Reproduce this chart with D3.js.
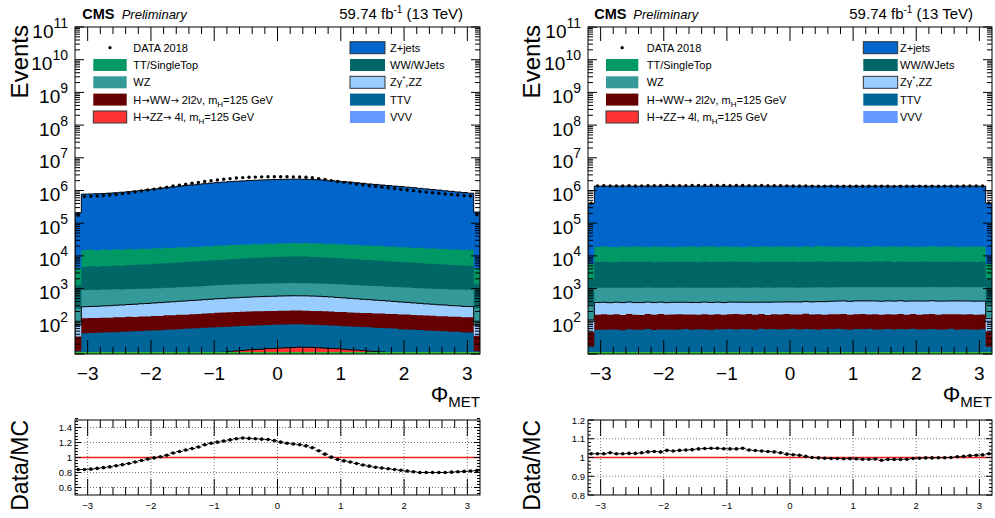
<!DOCTYPE html>
<html><head><meta charset="utf-8">
<script src="https://d3js.org/d3.v7.min.js"></script>
<style>
html,body{margin:0;padding:0;background:#fff;}
svg{display:block;}
text{font-family:"Liberation Sans",Arial,Helvetica,sans-serif;fill:#000;}
</style></head><body>
<svg id="chart" width="995" height="518"></svg>
<script>
// ---------------- binning / axis labels ----------------
const xMin = -3.2, xMax = 3.2, nBins = 64;
const xTickValues = [-3, -2, -1, 0, 1, 2, 3];
const xTickLabels = ["−3", "−2", "−1", "0", "1", "2", "3"];
const yDecadeExponents = [1, 2, 3, 4, 5, 6, 7, 8, 9, 10, 11];
const ratioTicksLeft = [0.6, 0.8, 1, 1.2, 1.4];
const ratioLabelsLeft = ["0.6", "0.8", "1", "1.2", "1.4"];
const ratioTicksRight = [0.8, 0.9, 1, 1.1, 1.2];
const ratioLabelsRight = ["0.8", "0.9", "1", "1.1", "1.2"];

// stack order: bottom -> top
const stackOrder = ["VVV", "HZZ", "TTV", "HWW", "ZG", "WZ", "WW", "TT", "ZJ"];
const colors = { ZJ: "#0066CC", WW: "#006666", ZG: "#99CCFF", TTV: "#006699", VVV: "#6699FF",
                 TT: "#009966", WZ: "#339999", HWW: "#660000", HZZ: "#FF3333" };
const outlined = { ZJ: true, ZG: true, HZZ: true };

// ---------------- LEFT panel series (events per bin) ----------------
const L_ZJ = [
 205000, 760000, 768000, 781000, 793000, 818000, 838000, 872000,
 901000, 947000, 988000, 1042000, 1091000, 1153000, 1207000, 1274000,
 1331000, 1403000, 1461000, 1534000, 1592000, 1664000, 1721000, 1788000,
 1842000, 1903000, 1946000, 1998000, 2031000, 2078000, 2102000, 2137000,
 2158000, 2183000, 2187000, 2194000, 2172000, 2148000, 2097000, 2049000,
 1976000, 1913000, 1836000, 1773000, 1697000, 1638000, 1566000, 1513000,
 1452000, 1404000, 1347000, 1302000, 1248000, 1203000, 1147000, 1102000,
 1053000, 1012000, 963000, 927000, 884000, 852000, 814000, 215000];
const L_TT = [
 2900, 10300, 10800, 10000, 10700, 10200, 10900, 10400,
 11000, 10500, 11200, 10800, 11500, 11100, 11600, 11400,
 12200, 11600, 12500, 12000, 12800, 12200, 13200, 12800,
 13600, 13300, 14000, 13700, 14400, 14000, 14600, 14200,
 15000, 14600, 15100, 14800, 15200, 14600, 15000, 14300,
 14800, 14000, 14300, 13600, 13900, 13300, 13400, 12800,
 13000, 12300, 12500, 11800, 11900, 11300, 11600, 10900,
 11200, 10600, 10900, 10300, 10600, 10100, 10400, 2800];
const L_WW = [
 1050, 3700, 3900, 3750, 3980, 3900, 4150, 4030,
 4260, 4280, 4450, 4500, 4700, 4780, 4950, 5070,
 5230, 5340, 5540, 5660, 5880, 6020, 6240, 6380,
 6610, 6740, 6980, 7100, 7330, 7430, 7650, 7760,
 7930, 7990, 8090, 8060, 8040, 7890, 7790, 7580,
 7450, 7190, 6980, 6740, 6580, 6360, 6230, 6020,
 5900, 5700, 5580, 5380, 5270, 5080, 4980, 4790,
 4720, 4560, 4480, 4330, 4270, 4140, 4090, 1100];
const L_WZ = [
 170, 625, 634, 624, 636, 627, 639, 630,
 641, 634, 644, 640, 654, 655, 669, 672,
 689, 694, 714, 719, 744, 752, 774, 782,
 802, 807, 826, 830, 847, 847, 859, 855,
 866, 862, 870, 861, 864, 852, 852, 837,
 834, 812, 804, 787, 784, 767, 764, 747,
 744, 727, 724, 702, 699, 682, 679, 665,
 664, 649, 650, 637, 640, 630, 634, 175];
const L_ZG = [
 42, 155, 158, 162, 166, 171, 177, 183,
 190, 197, 204, 211, 218, 226, 234, 243,
 251, 260, 268, 277, 285, 297, 306, 315,
 324, 333, 342, 350, 358, 365, 372, 378,
 383, 387, 390, 390, 388, 383, 375, 366,
 355, 342, 330, 318, 305, 293, 281, 270,
 259, 248, 238, 228, 218, 209, 200, 192,
 184, 177, 170, 164, 158, 153, 149, 40];
const L_HWW = [
 22, 80, 82, 81, 84, 83, 86, 85,
 88, 87, 90, 89, 93, 93, 97, 97,
 101, 101, 105, 106, 111, 112, 117, 117,
 121, 121, 125, 125, 128, 127, 130, 129,
 132, 131, 133, 131, 132, 129, 130, 126,
 126, 121, 120, 116, 116, 113, 113, 110,
 110, 107, 107, 104, 104, 100, 100, 97,
 97, 93, 94, 90, 91, 87, 88, 24];
const L_TTV = [
 11, 39, 39, 40, 40, 41, 41, 42,
 43, 43, 44, 45, 45, 46, 47, 48,
 49, 50, 51, 52, 53, 54, 55, 56,
 57, 58, 59, 60, 61, 62, 63, 64,
 64, 65, 65, 65, 64, 63, 62, 61,
 60, 58, 57, 56, 55, 54, 53, 52,
 51, 50, 49, 47, 46, 46, 45, 44,
 44, 43, 43, 42, 42, 41, 41, 11];
const L_HZZ = [
 0.5, 2.0, 2.2, 2.4, 2.6, 2.8, 3.0, 3.2,
 3.4, 3.7, 4.0, 4.3, 4.6, 4.9, 5.2, 5.5,
 5.8, 6.2, 6.6, 7.0, 7.5, 7.9, 8.3, 8.8,
 9.3, 9.8, 10.3, 10.8, 11.2, 11.6, 12.0, 12.3,
 12.6, 13.0, 13.4, 13.6, 13.5, 13.3, 13.0, 12.7,
 12.3, 11.9, 11.5, 11.0, 10.6, 10.2, 9.8, 9.4,
 9.0, 8.6, 8.2, 7.8, 7.5, 7.0, 6.4, 5.8,
 5.2, 4.6, 4.0, 3.4, 2.9, 2.4, 2.0, 0.5];
const L_VVV = [
 0.7, 2.4, 2.5, 2.4, 2.6, 2.5, 2.4, 2.5,
 2.6, 2.5, 2.4, 2.6, 2.5, 2.5, 2.6, 2.4,
 2.5, 2.6, 2.5, 2.4, 2.6, 2.5, 2.6, 2.5,
 2.4, 2.6, 2.5, 2.6, 2.5, 2.4, 2.6, 2.5,
 2.6, 2.5, 2.4, 2.6, 2.5, 2.6, 2.5, 2.4,
 2.5, 2.6, 2.5, 2.4, 2.6, 2.5, 2.4, 2.6,
 2.5, 2.4, 2.6, 2.5, 2.6, 2.5, 2.4, 2.6,
 2.5, 2.6, 2.4, 2.5, 2.6, 2.4, 2.5, 0.7];
const L_RATIO = [
 0.84, 0.84, 0.845, 0.855, 0.865, 0.875, 0.89, 0.905,
 0.92, 0.94, 0.96, 0.98, 0.995, 1.01, 1.03, 1.06,
 1.08, 1.10, 1.12, 1.14, 1.17, 1.19, 1.205, 1.22,
 1.235, 1.25, 1.26, 1.255, 1.25, 1.245, 1.24, 1.225,
 1.205, 1.19, 1.18, 1.17, 1.155, 1.13, 1.09, 1.045,
 1.005, 0.975, 0.955, 0.94, 0.92, 0.90, 0.885, 0.87,
 0.86, 0.85, 0.84, 0.83, 0.82, 0.81, 0.80, 0.80,
 0.80, 0.80, 0.80, 0.805, 0.81, 0.815, 0.82, 0.825];

// ---------------- RIGHT panel series ----------------
const R_ZJ = [
 395000, 1338000, 1345000, 1332000, 1340000, 1336000, 1342000, 1329000,
 1337000, 1344000, 1331000, 1339000, 1346000, 1335000, 1341000, 1333000,
 1347000, 1338000, 1343000, 1336000, 1340000, 1345000, 1332000, 1339000,
 1344000, 1337000, 1341000, 1348000, 1335000, 1342000, 1338000, 1346000,
 1340000, 1333000, 1345000, 1339000, 1336000, 1343000, 1350000, 1337000,
 1341000, 1334000, 1346000, 1339000, 1343000, 1336000, 1347000, 1340000,
 1335000, 1344000, 1338000, 1342000, 1349000, 1337000, 1341000, 1334000,
 1345000, 1339000, 1336000, 1343000, 1340000, 1347000, 1338000, 402000];
const R_TT = [
 3600, 12100, 12700, 12300, 11900, 12600, 12200, 12800,
 12400, 12000, 12900, 12300, 12500, 11800, 12600, 12300,
 12900, 12200, 12500, 12700, 12100, 12800, 12400, 12600,
 12000, 12700, 12300, 12900, 12500, 12200, 12800, 12400,
 12600, 12100, 12900, 12300, 13300, 12500, 12700, 12200,
 12800, 12400, 12000, 12600, 12300, 12900, 12500, 12100,
 12700, 12300, 12800, 12200, 12600, 12400, 13200, 12500,
 12300, 12800, 12100, 12600, 12400, 12900, 12500, 3700];
const R_WW = [
 1600, 5450, 5600, 5350, 5500, 5650, 5400, 5550,
 5480, 5620, 5380, 5700, 5450, 5560, 5420, 5600,
 5520, 5380, 5650, 5470, 5590, 5410, 5700, 5500,
 5440, 5610, 5360, 5580, 5490, 5640, 5420, 5550,
 5600, 5470, 5680, 5400, 5820, 5530, 5460, 5650,
 5380, 5570, 5500, 5630, 5420, 5590, 5480, 5700,
 5450, 5600, 5380, 5560, 5500, 5640, 5430, 5580,
 5520, 5390, 5670, 5480, 5600, 5440, 5560, 1650];
const R_WZ = [
 200, 690, 680, 695, 676, 688, 683, 692,
 679, 686, 694, 681, 689, 677, 693, 685,
 682, 690, 678, 695, 684, 688, 680, 691,
 686, 679, 693, 684, 690, 677, 688, 683,
 691, 682, 687, 680, 694, 685, 678, 690,
 684, 692, 679, 688, 683, 690, 681, 687,
 689, 680, 693, 684, 678, 691, 686, 682,
 688, 683, 690, 679, 692, 685, 687, 205];
const R_ZG = [
 62, 216, 219, 214, 221, 217, 220, 215,
 218, 222, 216, 219, 214, 220, 217, 221,
 215, 219, 222, 217, 220, 216, 223, 218,
 221, 217, 224, 219, 226, 222, 228, 225,
 230, 227, 233, 231, 236, 240, 246, 251,
 254, 252, 256, 253, 257, 255, 251, 256,
 253, 257, 254, 252, 256, 253, 258, 255,
 252, 256, 254, 257, 253, 255, 252, 72];
const R_HWW = [
 31, 104, 109, 101, 107, 103, 110, 105,
 100, 108, 104, 111, 102, 106, 109, 103,
 107, 101, 110, 105, 108, 102, 106, 111,
 104, 109, 103, 107, 100, 108, 105, 110,
 103, 106, 112, 104, 108, 101, 107, 105,
 109, 102, 106, 111, 104, 108, 103, 107,
 105, 110, 102, 108, 104, 106, 109, 103,
 107, 104, 110, 105, 108, 103, 106, 32];
const R_TTV = [
 14, 46, 45, 47, 46, 44, 47, 45,
 46, 48, 45, 46, 47, 45, 46, 48,
 45, 47, 46, 44, 47, 46, 48, 45,
 47, 46, 45, 48, 46, 47, 45, 46,
 48, 45, 47, 46, 44, 47, 46, 48,
 46, 45, 47, 46, 48, 45, 46, 47,
 45, 47, 46, 48, 45, 46, 47, 45,
 46, 48, 45, 47, 46, 45, 47, 14];
const R_HZZ = [
 2.0, 7.1, 7.3, 7.0, 7.4, 7.2, 7.1, 7.3,
 7.2, 7.4, 7.0, 7.3, 7.1, 7.4, 7.2, 7.3,
 7.4, 7.2, 7.3, 7.5, 8.1, 8.3, 8.0, 8.4,
 8.2, 8.5, 8.1, 8.3, 8.6, 8.2, 8.4, 8.7,
 8.3, 8.5, 8.2, 8.6, 8.4, 8.8, 8.3, 8.5,
 8.6, 8.2, 8.4, 8.7, 8.3, 8.5, 8.1, 8.4,
 8.6, 8.3, 8.5, 8.2, 8.4, 8.7, 8.3, 8.5,
 8.2, 8.4, 8.0, 7.6, 7.4, 7.3, 7.2, 2.1];
const R_VVV = [
 0.7, 2.5, 2.4, 2.6, 2.5, 2.4, 2.6, 2.5,
 2.4, 2.6, 2.5, 2.5, 2.4, 2.6, 2.5, 2.4,
 2.6, 2.5, 2.4, 2.6, 2.5, 2.6, 2.4, 2.5,
 2.6, 2.4, 2.5, 2.6, 2.4, 2.5, 2.6, 2.5,
 2.4, 2.6, 2.5, 2.4, 2.6, 2.5, 2.4, 2.6,
 2.5, 2.4, 2.6, 2.5, 2.5, 2.6, 2.4, 2.5,
 2.6, 2.5, 2.4, 2.6, 2.5, 2.4, 2.6, 2.5,
 2.4, 2.6, 2.5, 2.4, 2.6, 2.5, 2.5, 0.7];
const R_RATIO = [
 1.02, 1.02, 1.02, 1.025, 1.02, 1.02, 1.022, 1.022,
 1.025, 1.03, 1.032, 1.03, 1.038, 1.035, 1.038, 1.04,
 1.042, 1.046, 1.048, 1.049, 1.049, 1.047, 1.046, 1.046,
 1.049, 1.04, 1.037, 1.035, 1.032, 1.03, 1.025, 1.018,
 1.015, 1.012, 1.006, 1.0, 0.998, 0.996, 0.995, 0.995,
 0.993, 0.994, 0.993, 0.991, 0.991, 0.992, 0.985, 0.99,
 0.99, 0.99, 0.991, 0.995, 0.996, 0.998, 0.998, 0.999,
 0.999, 1.0, 1.004, 1.006, 1.01, 1.012, 1.014, 1.02];

// ---------------- legend ----------------
const ARROW = { t: "→", font: "'DejaVu Sans'", size: 10 };
const legendCol1 = [
  { key: "DATA", parts: [{ t: "DATA 2018" }] },
  { key: "TT", parts: [{ t: "TT/SingleTop" }] },
  { key: "WZ", parts: [{ t: "WZ" }] },
  { key: "HWW", parts: [{ t: "H" }, ARROW, { t: "WW" }, ARROW, { t: " 2l2ν, m" }, { t: "H", off: 3, size: 8 }, { t: "=125 GeV" }] },
  { key: "HZZ", parts: [{ t: "H" }, ARROW, { t: "ZZ" }, ARROW, { t: " 4l, m" }, { t: "H", off: 3, size: 8 }, { t: "=125 GeV" }] }
];
const legendCol2 = [
  { key: "ZJ", parts: [{ t: "Z+jets" }] },
  { key: "WW", parts: [{ t: "WW/WJets" }] },
  { key: "ZG", parts: [{ t: "Zγ" }, { t: "*", off: -5, size: 8 }, { t: ",ZZ" }] },
  { key: "TTV", parts: [{ t: "TTV" }] },
  { key: "VVV", parts: [{ t: "VVV" }] }
];

// ---------------- layout ----------------
const MAIN_T = 27, MAIN_B = 354, RAT_T = 420, RAT_B = 495;
const legendRows = [47.7, 65, 82.3, 99.6, 117];

const panels = [
  { id: "L", x0: 75, x1: 480,
    series: { ZJ: L_ZJ, TT: L_TT, WW: L_WW, WZ: L_WZ, ZG: L_ZG, HWW: L_HWW, TTV: L_TTV, HZZ: L_HZZ, VVV: L_VVV },
    ratio: L_RATIO, rDomain: [0.5, 1.5], rTicks: ratioTicksLeft, rLabels: ratioLabelsLeft, rMinor: 0.04,
    titleX: 28, cmsX: 82.3, prelX: 121.7, lumiX: 463,
    leg1: { sx: 93.3, sw: 33.4, tx: 133.3 }, leg2: { sx: 350, sw: 35, tx: 390 } },
  { id: "R", x0: 588, x1: 992,
    series: { ZJ: R_ZJ, TT: R_TT, WW: R_WW, WZ: R_WZ, ZG: R_ZG, HWW: R_HWW, TTV: R_TTV, HZZ: R_HZZ, VVV: R_VVV },
    ratio: R_RATIO, rDomain: [0.8, 1.2], rTicks: ratioTicksRight, rLabels: ratioLabelsRight, rMinor: 0.02,
    titleX: 540, cmsX: 594.3, prelX: 633.3, lumiX: 973,
    leg1: { sx: 606, sw: 32.3, tx: 646.7 }, leg2: { sx: 863.3, sw: 34.4, tx: 900 } }
];

const svg = d3.select("#chart");
const defs = svg.append("defs");

function rich(parent, x, y, parts, size, anchor) {
  const t = parent.append("text").attr("x", x).attr("y", y)
    .attr("font-size", size).attr("text-anchor", anchor || "start");
  let prev = 0;
  parts.forEach(p => {
    const off = p.off || 0;
    const s = t.append("tspan").text(p.t).attr("dy", off - prev);
    if (p.size) s.attr("font-size", p.size);
    if (p.font) s.style("font-family", p.font);
    if (p.weight) s.attr("font-weight", p.weight);
    if (p.style) s.attr("font-style", p.style);
    prev = off;
  });
  return t;
}

function drawPanel(p) {
  const g = svg.append("g");
  const x = d3.scaleLinear().domain([xMin, xMax]).range([p.x0, p.x1]);
  const y = d3.scaleLog().domain([10, 1e11]).range([MAIN_B, MAIN_T]).clamp(true);
  const binW = (xMax - xMin) / nBins;
  const edges = d3.range(nBins + 1).map(i => xMin + i * binW);
  const centers = d3.range(nBins).map(i => xMin + (i + 0.5) * binW);

  // cumulative stack
  const cum = {};
  let run = new Array(nBins).fill(0);
  stackOrder.forEach(k => { run = run.map((v, i) => v + p.series[k][i]); cum[k] = run; });
  const total = cum[stackOrder[stackOrder.length - 1]];
  const data = total.map((t, i) => t * p.ratio[i]);

  defs.append("clipPath").attr("id", "clipM" + p.id).append("rect")
    .attr("x", p.x0).attr("y", MAIN_T).attr("width", p.x1 - p.x0).attr("height", MAIN_B - MAIN_T);
  const plot = g.append("g").attr("clip-path", `url(#clipM${p.id})`);

  const stepPts = vals => {
    const pts = [];
    vals.forEach((v, i) => { pts.push([x(edges[i]), y(v)], [x(edges[i + 1]), y(v)]); });
    return pts;
  };
  const line = d3.line();
  // ROOT-like: draw cumulative histograms from top to bottom
  stackOrder.slice().reverse().forEach(k => {
    const pts = stepPts(cum[k]);
    const area = [[x(edges[0]), MAIN_B], ...pts, [x(edges[nBins]), MAIN_B]];
    plot.append("path").attr("d", line(area) + "Z").attr("fill", colors[k]).attr("stroke", "none");
    if (outlined[k]) {
      plot.append("path").attr("d", line(area)).attr("fill", "none")
        .attr("stroke", "#000").attr("stroke-width", 1);
    }
  });
  // bottom green line
  plot.append("line").attr("x1", p.x0).attr("x2", p.x1).attr("y1", MAIN_B - 1).attr("y2", MAIN_B - 1)
    .attr("stroke", "#33BB33").attr("stroke-width", 2);

  // data points
  plot.selectAll("circle.d").data(centers).join("circle").attr("class", "d")
    .attr("cx", c => x(c)).attr("cy", (c, i) => y(data[i])).attr("r", 1.7).attr("fill", "#000");

  // frame
  g.append("rect").attr("x", p.x0).attr("y", MAIN_T).attr("width", p.x1 - p.x0).attr("height", MAIN_B - MAIN_T)
    .attr("fill", "none").attr("stroke", "#000").attr("stroke-width", 1);

  // x ticks
  const ticks = g.append("g").attr("stroke", "#000").attr("stroke-width", 1);
  d3.range(-16, 17).forEach(j => {
    const v = j * 0.2;
    if (v <= xMin + 1e-9 || v >= xMax - 1e-9) return;
    const major = j % 5 === 0;
    const len = major ? 14 : 7;
    ticks.append("line").attr("x1", x(v)).attr("x2", x(v)).attr("y1", MAIN_B).attr("y2", MAIN_B - len);
    ticks.append("line").attr("x1", x(v)).attr("x2", x(v)).attr("y1", MAIN_T).attr("y2", MAIN_T + len);
  });
  // y log ticks
  yDecadeExponents.forEach(e => {
    const mults = e === 11 ? [1] : [1, 2, 3, 4, 5, 6, 7, 8, 9];
    mults.forEach(m => {
      const v = m * Math.pow(10, e);
      const len = m === 1 ? 9 : 5;
      ticks.append("line").attr("x1", p.x0).attr("x2", p.x0 + len).attr("y1", y(v)).attr("y2", y(v));
      ticks.append("line").attr("x1", p.x1).attr("x2", p.x1 - len).attr("y1", y(v)).attr("y2", y(v));
    });
  });

  // labels
  xTickValues.forEach((v, i) => {
    g.append("text").attr("x", x(v)).attr("y", 380).attr("font-size", 19).attr("text-anchor", "middle").text(xTickLabels[i]);
  });
  yDecadeExponents.forEach(e => {
    if (e < 2) return;
    rich(g, p.x0 - 7, y(Math.pow(10, e)) + 10.5, [{ t: "10" }, { t: String(e), off: -10, size: 14 }], 19, "end");
  });
  rich(g, p.x1, 402, [{ t: "Φ" }, { t: "MET", off: 5, size: 15 }], 22, "end");
  g.append("text").attr("transform", `translate(${p.titleX},25) rotate(-90)`).attr("text-anchor", "end")
    .attr("font-size", 24).text("Events");

  // header
  g.append("text").attr("x", p.cmsX).attr("y", 18.5).attr("font-size", 14.5).attr("font-weight", "bold").text("CMS");
  g.append("text").attr("x", p.prelX).attr("y", 18.5).attr("font-size", 13).attr("font-style", "italic").text("Preliminary");
  rich(g, p.lumiX, 18.5, [{ t: "59.74 fb" }, { t: "-1", off: -6, size: 10 }, { t: " (13 TeV)" }], 15, "end");

  // legend
  const drawLegCol = (col, geo) => {
    col.forEach((en, i) => {
      const cy = legendRows[i];
      if (en.key === "DATA") {
        g.append("circle").attr("cx", geo.sx + geo.sw / 2).attr("cy", cy).attr("r", 1.6).attr("fill", "#000");
      } else {
        g.append("rect").attr("x", geo.sx).attr("y", cy - 6).attr("width", geo.sw).attr("height", 12)
          .attr("fill", colors[en.key])
          .attr("stroke", outlined[en.key] ? "#333" : "none").attr("stroke-width", 1);
      }
      rich(g, geo.tx, cy + 4, en.parts, 11, "start");
    });
  };
  drawLegCol(legendCol1, p.leg1);
  drawLegCol(legendCol2, p.leg2);

  // ---------------- ratio panel ----------------
  const yr = d3.scaleLinear().domain(p.rDomain).range([RAT_B, RAT_T]);
  const rg = svg.append("g");
  defs.append("clipPath").attr("id", "clipR" + p.id).append("rect")
    .attr("x", p.x0).attr("y", RAT_T).attr("width", p.x1 - p.x0).attr("height", RAT_B - RAT_T);
  const rplot = rg.append("g").attr("clip-path", `url(#clipR${p.id})`);
  // grid
  xTickValues.forEach(v => {
    rplot.append("line").attr("x1", x(v)).attr("x2", x(v)).attr("y1", RAT_T).attr("y2", RAT_B)
      .attr("stroke", "#555").attr("stroke-width", 0.8).attr("stroke-dasharray", "1,2");
  });
  p.rTicks.forEach(v => {
    rplot.append("line").attr("x1", p.x0).attr("x2", p.x1).attr("y1", yr(v)).attr("y2", yr(v))
      .attr("stroke", "#555").attr("stroke-width", 0.8).attr("stroke-dasharray", "1,2");
  });
  rplot.append("line").attr("x1", p.x0).attr("x2", p.x1).attr("y1", yr(1)).attr("y2", yr(1))
    .attr("stroke", "#E8201C").attr("stroke-width", 1.3);
  // points
  centers.forEach((c, i) => {
    rplot.append("line").attr("x1", x(edges[i])).attr("x2", x(edges[i + 1]))
      .attr("y1", yr(p.ratio[i])).attr("y2", yr(p.ratio[i])).attr("stroke", "#000").attr("stroke-width", 1);
    rplot.append("circle").attr("cx", x(c)).attr("cy", yr(p.ratio[i])).attr("r", 1.8).attr("fill", "#000");
  });
  rg.append("rect").attr("x", p.x0).attr("y", RAT_T).attr("width", p.x1 - p.x0).attr("height", RAT_B - RAT_T)
    .attr("fill", "none").attr("stroke", "#000").attr("stroke-width", 1);
  const rt = rg.append("g").attr("stroke", "#000").attr("stroke-width", 1);
  d3.range(-16, 17).forEach(j => {
    const v = j * 0.2;
    if (v <= xMin + 1e-9 || v >= xMax - 1e-9) return;
    const major = j % 5 === 0;
    const len = major ? 16 : 8;
    rt.append("line").attr("x1", x(v)).attr("x2", x(v)).attr("y1", RAT_B).attr("y2", RAT_B - len);
    rt.append("line").attr("x1", x(v)).attr("x2", x(v)).attr("y1", RAT_T).attr("y2", RAT_T + len);
  });
  const lo = Math.round(p.rDomain[0] / p.rMinor), hi = Math.round(p.rDomain[1] / p.rMinor);
  d3.range(lo, hi + 1).forEach(j => {
    const v = j * p.rMinor;
    const major = p.rTicks.some(t => Math.abs(t - v) < 1e-6);
    const len = major ? 6 : 3;
    rt.append("line").attr("x1", p.x0).attr("x2", p.x0 + len).attr("y1", yr(v)).attr("y2", yr(v));
    rt.append("line").attr("x1", p.x1).attr("x2", p.x1 - len).attr("y1", yr(v)).attr("y2", yr(v));
  });
  p.rTicks.forEach((v, i) => {
    rg.append("text").attr("x", p.x0 - 3).attr("y", yr(v) + 3.5).attr("font-size", 9.5)
      .attr("text-anchor", "end").text(p.rLabels[i]);
  });
  xTickValues.forEach((v, i) => {
    rg.append("text").attr("x", x(v)).attr("y", 509).attr("font-size", 9.5).attr("text-anchor", "middle").text(xTickLabels[i]);
  });
  rg.append("text").attr("transform", `translate(${p.titleX},420) rotate(-90)`).attr("text-anchor", "end")
    .attr("font-size", 23).text("Data/MC");
}

panels.forEach(drawPanel);
</script>
</body></html>
